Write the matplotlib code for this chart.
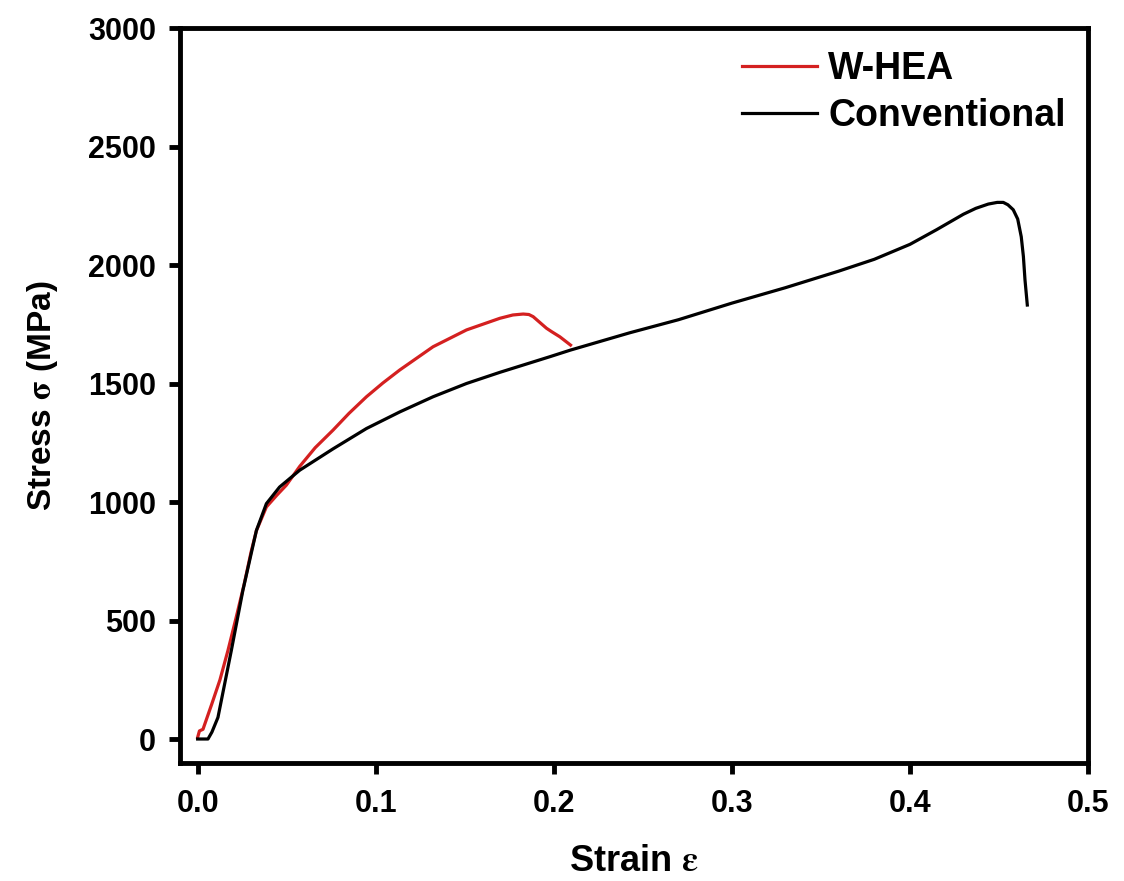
import numpy as np
import matplotlib.pyplot as plt

plt.rcParams['font.family'] = ['Liberation Sans', 'DejaVu Sans']
plt.rcParams['font.weight'] = 'bold'
plt.rcParams['mathtext.fontset'] = 'stix'

# W-HEA curve (strain, stress in MPa)
hea_strain = [0.0, 0.001, 0.003, 0.008, 0.0125, 0.017, 0.0215, 0.026, 0.03, 0.033,
              0.0386, 0.0445, 0.0498, 0.0573, 0.066, 0.076, 0.085, 0.0948, 0.104,
              0.1135, 0.1322, 0.151, 0.1697, 0.177, 0.1828, 0.186, 0.1884,
              0.1959, 0.1987, 0.2034, 0.2094]
hea_stress = [8, 35, 42, 150, 250, 374, 510, 650, 790, 880,
              980, 1030, 1072, 1151, 1230, 1304, 1375, 1445, 1503,
              1558, 1656, 1727, 1776, 1790, 1794, 1792, 1783,
              1734, 1720, 1698, 1663]

# Conventional curve
conv_strain = [0.0, 0.0058, 0.008, 0.0114, 0.0189, 0.0254, 0.033, 0.0386, 0.046,
               0.0573, 0.076, 0.0948, 0.1135, 0.1322, 0.151, 0.1697, 0.1978,
               0.2094, 0.2427, 0.27, 0.3, 0.33, 0.36, 0.38, 0.4, 0.415, 0.43,
               0.437, 0.444, 0.449, 0.4524, 0.455, 0.458, 0.4605, 0.4625,
               0.4637, 0.4646, 0.4659]
conv_stress = [1, 1, 30, 92, 374, 628, 881, 994, 1064,
               1135, 1225, 1311, 1381, 1445, 1501, 1548, 1614,
               1642, 1715, 1770, 1840, 1905, 1975, 2025, 2088, 2150, 2215,
               2240, 2258, 2265, 2265, 2255, 2234, 2195, 2120,
               2037, 1938, 1832]

fig = plt.figure(figsize=(11.24, 8.81), dpi=100)
ax = fig.add_axes([0.160, 0.134, 0.808, 0.834])

ax.plot(hea_strain, hea_stress, color='#d42020', lw=2.3, label='W-HEA')
ax.plot(conv_strain, conv_stress, color='black', lw=2.3, label='Conventional')

ax.set_xlim(-0.01, 0.5)
ax.set_ylim(-100, 3000)
ax.set_xticks(np.arange(0, 0.51, 0.1))
ax.set_yticks(np.arange(0, 3001, 500))
ax.xaxis.set_major_formatter(plt.FormatStrFormatter('%.1f'))

for s in ax.spines.values():
    s.set_linewidth(3.5)
ax.tick_params(direction='out', length=8, width=3.5, labelsize=22)
ax.tick_params(axis='x', pad=11)
ax.tick_params(axis='y', pad=9)
for lab in ax.get_xticklabels() + ax.get_yticklabels():
    lab.set_fontweight('bold')

ax.set_xlabel(r'Strain $\mathrm{\varepsilon}$', fontsize=26, fontweight='bold', labelpad=18)
ax.set_ylabel(r'Stress $\mathrm{\sigma}$ (MPa)', fontsize=24, fontweight='bold', labelpad=20)

leg = ax.legend(loc='upper right', frameon=False, fontsize=27, handlelength=2.0,
                handletextpad=0.3, labelspacing=0.3, borderaxespad=0.2)
for t in leg.get_texts():
    t.set_fontweight('bold')

fig.savefig('out.png', dpi=100)
